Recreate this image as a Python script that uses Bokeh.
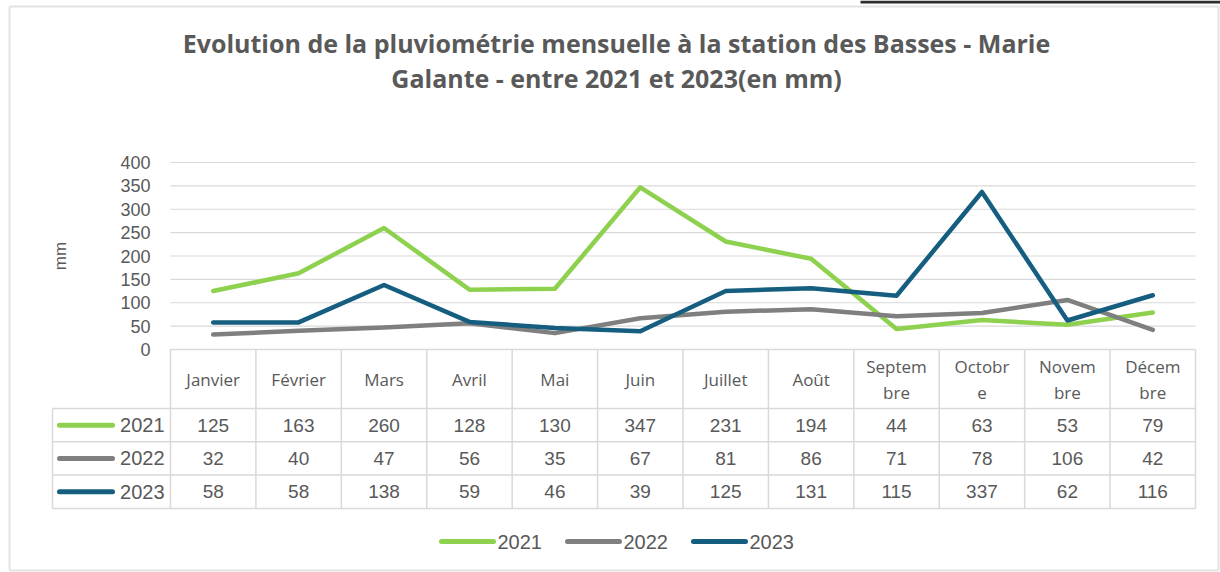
import numpy as np
from bokeh.plotting import figure
from bokeh.models import Range1d, FixedTicker
from bokeh.core.properties import value
from bokeh.embed import file_html
from bokeh.resources import INLINE

# ---------------- data ----------------
months = ["Janvier", "Février", "Mars", "Avril", "Mai", "Juin", "Juillet",
          "Août", "Septembre", "Octobre", "Novembre", "Décembre"]
month_labels = ["Janvier", "Février", "Mars", "Avril", "Mai", "Juin", "Juillet",
                "Août", "Septem\nbre", "Octobr\ne", "Novem\nbre", "Décem\nbre"]
years = ["2021", "2022", "2023"]
rain_2021 = [125, 163, 260, 128, 130, 347, 231, 194, 44, 63, 53, 79]
rain_2022 = [32, 40, 47, 56, 35, 67, 81, 86, 71, 78, 106, 42]
rain_2023 = [58, 58, 138, 59, 46, 39, 125, 131, 115, 337, 62, 116]
y_ticks = [0, 50, 100, 150, 200, 250, 300, 350, 400]
title_lines = ["Evolution de la pluviométrie mensuelle à la station des Basses - Marie",
               "Galante - entre 2021 et 2023(en mm)"]
y_label = "mm"

series = [rain_2021, rain_2022, rain_2023]
colors = ["#8DD14F", "#7F7F7F", "#165E80"]

# ---------------- layout constants (page pixels) ----------------
W, H = 1220, 572
FL, FR = 2, 1220            # frame left / right
C0, C1 = 170, 1195          # plot area left / right
Y0, Y400 = 349, 162         # pixel rows of 0 mm and 400 mm
n = len(months)
colw = (C1 - C0) / n
k = (Y0 - Y400) / 400.0     # px per mm
ux = lambda px: (px - C0) / colw
yd = lambda py: (Y0 - py) / k
GRID = "#D9D9D9"
TXT = "#595959"
NUMF = "Liberation Sans"
MONF = "Open Sans"

p = figure(width=W, height=H, x_range=Range1d(ux(FL), ux(FR)),
           y_range=Range1d(yd(H), yd(0)),
           min_border_left=FL, min_border_right=W - FR, min_border_top=0,
           min_border_bottom=0, x_axis_location=None, toolbar_location=None,
           output_backend="svg", outline_line_color=None)
p.xgrid.visible = False
p.ygrid.visible = False

# y axis (labels pushed right to sit just left of the plot area)
p.yaxis.ticker = FixedTicker(ticks=y_ticks)
p.yaxis.axis_line_color = None
p.yaxis.major_tick_line_color = None
p.yaxis.minor_tick_line_color = None
p.yaxis.major_tick_out = 0
p.yaxis.major_tick_in = 0
p.yaxis.major_label_standoff = -(150 - FL)
p.yaxis.major_label_text_font = NUMF
p.yaxis.major_label_text_font_size = "18px"
p.yaxis.major_label_text_color = TXT

# outer chart border and top screenshot edge
p.segment(x0=[ux(9), ux(9), ux(1218), ux(9)], y0=[yd(6), yd(6), yd(6), yd(570)],
          x1=[ux(1218), ux(9), ux(1218), ux(1218)], y1=[yd(6), yd(570), yd(570), yd(570)],
          line_color="#E3E3E3", line_width=2)
p.segment(x0=[ux(860)], y0=[yd(1.5)], x1=[ux(1220)], y1=[yd(1.5)],
          line_color="#2E2E2E", line_width=3)

# horizontal gridlines over plot area only
p.segment(x0=[0] * len(y_ticks), y0=y_ticks, x1=[n] * len(y_ticks), y1=y_ticks,
          line_color=GRID, line_width=1.2)

# axis title
p.text(x=[ux(60)], y=[200], text=[y_label], angle=np.pi / 2, text_font=value(NUMF),
       text_font_size="17px", text_color=TXT, text_align="center", text_baseline="middle")

# title
p.text(x=[ux(616)] * 2, y=[yd(42), yd(77)], text=title_lines, text_font=value("Open Sans"),
       text_font_style="bold", text_font_size="25px", text_color=TXT,
       text_align="center", text_baseline="middle")

# lines
xs = np.arange(n) + 0.5
for vals, col in zip(series, colors):
    p.line(xs, vals, line_color=col, line_width=4.5, line_join="round", line_cap="round")

# ---------------- table ----------------
head_bot = 408
row_h = 33.3
left_edge = ux(52)
rows_y = [head_bot + r * row_h for r in range(4)]
bottom = rows_y[-1]

hy = [yd(Y0)] + [yd(v) for v in rows_y]
hx0 = [0] + [left_edge] * 4
p.segment(x0=hx0, y0=hy, x1=[n] * 5, y1=hy, line_color=GRID, line_width=1.5)
vx = list(range(n + 1)) + [left_edge]
vy0 = [yd(Y0)] * (n + 1) + [yd(head_bot)]
p.segment(x0=vx, y0=vy0, x1=vx, y1=[yd(bottom)] * (n + 2), line_color=GRID, line_width=1.5)

mx, my, mt = [], [], []
head_mid = (Y0 + head_bot) / 2 + 0.5
for i, lab in enumerate(month_labels):
    parts = lab.split("\n")
    for j, part in enumerate(parts):
        mx.append(i + 0.5)
        my.append(yd(head_mid + (j - (len(parts) - 1) / 2) * 26))
        mt.append(part)
p.text(x=mx, y=my, text=mt, text_font=value(MONF), text_font_size="17px", text_color=TXT,
       text_align="center", text_baseline="middle")

for r, vals in enumerate(series):
    yc = yd(head_bot + (r + 0.5) * row_h)
    p.text(x=list(xs), y=[yc] * n, text=[str(v) for v in vals], text_font=value(NUMF),
           text_font_size="19px", text_color=TXT, text_align="center", text_baseline="middle")
    p.segment(x0=[ux(59)], y0=[yc], x1=[ux(112)], y1=[yc], line_color=colors[r],
              line_width=5, line_cap="round")
    p.text(x=[ux(164)], y=[yc], text=[years[r]], text_font=value(NUMF), text_font_size="20px",
           text_color=TXT, text_align="right", text_baseline="middle")

# ---------------- bottom legend ----------------
leg_y = yd(541)
for kk, (yr, col) in enumerate(zip(years, colors)):
    x0 = 441 + 126 * kk
    p.segment(x0=[ux(x0)], y0=[leg_y], x1=[ux(x0 + 52)], y1=[leg_y], line_color=col,
              line_width=5, line_cap="round")
    p.text(x=[ux(x0 + 56)], y=[leg_y], text=[yr], text_font=value(NUMF), text_font_size="20px",
           text_color=TXT, text_align="left", text_baseline="middle")

open("out.html", "w").write(file_html(p, INLINE))
